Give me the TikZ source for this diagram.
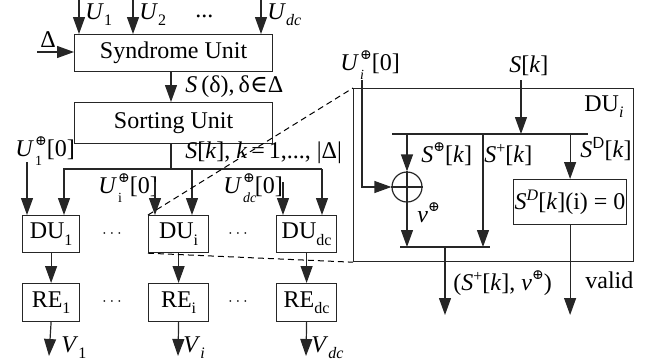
\documentclass[tikz,border=0pt]{standalone}
\usepackage{fontspec}
\setmainfont{Liberation Serif}
\newfontfamily\symf{DejaVu Serif}
\usetikzlibrary{arrows.meta}
\newcommand{\lsub}[1]{\raisebox{-0.6ex}{\footnotesize #1}}
\newcommand{\lsup}[1]{\raisebox{0.8ex}{\footnotesize #1}}
\newcommand{\opsup}{\raisebox{0.95ex}{\symf\scriptsize ⊕}}
\newcommand{\subop}[1]{\kern0.6pt\rlap{\raisebox{-0.9ex}{\scriptsize #1}}\opsup}
\begin{document}
\begin{tikzpicture}[x=0.5pt,y=-0.5pt,
  every node/.style={font=\fontsize{12}{14}\selectfont},
  ln/.style={line width=0.6pt, draw=black!85},
  arr/.style={ln,-{Triangle[length=8.5pt,width=6pt]}},
  box/.style={ln, draw, rectangle, inner sep=0pt, anchor=north west},
  lab/.style={inner sep=0pt, anchor=base west},
  dsh/.style={line width=0.5pt, dash pattern=on 3pt off 2pt}]
\useasboundingbox (0,0) rectangle (659,360);
% boxes
\node[box, minimum width=99pt, minimum height=18.5pt] (syn) at (74,34) {Syndrome Unit};
\node[box, minimum width=99pt, minimum height=20.5pt] (sort) at (74,102) {Sorting Unit};
\node[box, minimum width=28.5pt, minimum height=18.5pt] (du1) at (22,215) {DU\lsub{1}};
\node[box, minimum width=30pt, minimum height=18.5pt] (dui) at (148,215) {DU\lsub{i}};
\node[box, minimum width=30pt, minimum height=18.5pt] (dudc) at (276,215) {DU\lsub{dc}};
\node[box, minimum width=28.5pt, minimum height=19pt] (re1) at (22,283) {RE\lsub{1}};
\node[box, minimum width=30pt, minimum height=19pt] (rei) at (148,283) {RE\lsub{i}};
\node[box, minimum width=30pt, minimum height=19pt] (redc) at (276,283) {RE\lsub{dc}};
% top inputs
\coordinate (t1) at (79,0); \coordinate (t2) at (133,0); \coordinate (t3) at (261,0);
\draw[arr] (t1) -- (syn.north -| t1);
\draw[arr] (t2) -- (syn.north -| t2);
\draw[arr] (t3) -- (syn.north -| t3);
\node[lab] (lu1) at (85,19) {\textit{U}\lsub{1}};
\node[lab] (lu2) at (139,19) {\textit{U}\lsub{2}};
\node[lab] (ludc) at (267,19) {\textit{U}\lsub{\textit{dc}}};
\node[lab] (ldots) at (195,17) {...};
\coordinate (dl) at (37,52);
\draw[arr] (dl) -- (syn.west |- dl);
\node[lab] (ldelta) at (40,47) {Δ};
% syndrome -> sorting
\draw[arr] (syn.south -| 171,0) -- (sort.north -| 171,0);
\node[lab] (lsd) at (185,92) {\textit{S}\,(δ),\,δ{\symf∈}Δ};
% bus
\coordinate (bm) at (171,169); \coordinate (bl) at (64,169); \coordinate (br) at (322,169); \coordinate (bi) at (192,169);
\draw[arr] (sort.south -| bm) -- (bm) -- (bl) -- (du1.north -| bl);
\draw[ln] (bm) -- (br);
\draw[arr] (br) -- (dudc.north -| br);
\draw[arr] (bi) -- (dui.north -| bi);
\node[lab] (lsk) at (185,158) {\textit{S}[\textit{k}], \textit{k}\,=\,1,..., |Δ|};
% U oplus inputs
\node[lab] (lu10) at (15,156) {\textit{U}\subop{1}[0]};
\coordinate (a1) at (27,162);
\draw[arr] (a1) -- (du1.north -| a1);
\node[lab] (lui0) at (98,193) {\textit{U}\subop{i}[0]};
\coordinate (ai) at (155,182);
\draw[arr] (ai) -- (dui.north -| ai);
\node[lab] (ludc0) at (223,193) {\textit{U}\subop{\textit{dc}}[0]};
\coordinate (adc) at (283,182);
\draw[arr] (adc) -- (dudc.north -| adc);
% DU -> RE
\draw[arr] (du1.south) -- (re1.north);
\draw[arr] (dui.south) -- (rei.north);
\draw[arr] (dudc.south) -- (redc.north);
\coordinate (v1) at (49,356); \coordinate (vi) at (178,356); \coordinate (vdc) at (306,356);
\draw[arr] (re1.south) -- (v1);
\draw[arr] (rei.south) -- (vi);
\draw[arr] (redc.south) -- (vdc);
\node[lab] (lv1) at (61,352) {\textit{V}\lsub{1}};
\node[lab] (lvi) at (183,352) {\textit{V}\lsub{\textit{i}}};
\node[lab] (lvdc) at (311,352) {\textit{V}\lsub{\textit{dc}}};
\node (d1) at (112,234) {\footnotesize$\cdots$};
\node (d2) at (238,234) {\footnotesize$\cdots$};
\node (d3) at (112,302) {\footnotesize$\cdots$};
\node (d4) at (238,302) {\footnotesize$\cdots$};
% big box
\node[box, minimum width=140pt, minimum height=86.5pt] (big) at (353,88) {};
\draw[dsh] (dui.north west) -- (big.north west);
\draw[dsh] (dui.south west) -- (big.south west);
\node[lab] (lbig) at (584,111) {DU\lsub{\textit{i}}};
\node[lab] (luit) at (340,70) {\textit{U}\subop{\textit{i}}[0]};
\node[lab] (lskt) at (509,72) {\textit{S}[\textit{k}]};
\node[circle, ln, draw, minimum size=15pt, inner sep=0pt] (xor) at (407,187) {};
\draw[ln] (xor.north) -- (xor.south) (xor.west) -- (xor.east);
\node[box, minimum width=56.5pt, minimum height=22.5pt] (sdb) at (513,179) {\textit{S\lsup{D}}[\textit{k}](i) = 0};
\coordinate (ut) at (362,80); \coordinate (st) at (521,80);
\coordinate (bus1) at (521,134);
\coordinate (b1l) at (392,134); \coordinate (b1r) at (588,134);
\draw[ln] (b1l) -- (b1r);
\draw[arr] (st) -- (bus1);
\draw[arr] (ut) -- (362,187) -- (xor.west);
\draw[arr] (xor.north |- b1l) -- (xor.north);
\coordinate (b2l) at (400,247); \coordinate (b2r) at (490,247);
\draw[ln] (b2l) -- (b2r);
\draw[arr] (xor.south) -- (xor.south |- b2l);
\draw[arr] (483,134) -- (483,247);
\draw[arr] (sdb.north |- b1l) -- (sdb.north);
\coordinate (o1) at (445,315); \coordinate (o2) at (574,315);
\draw[arr] (o1 |- b2l) -- (o1);
\draw[arr] (sdb.south) -- (sdb.south |- o2);
\node[lab] (lsop) at (421,162) {\textit{S}\opsup[\textit{k}]};
\node[lab] (lsp) at (484,162) {\textit{S}\lsup{+}[\textit{k}]};
\node[lab] (lsd2) at (580,157) {\textit{S}\lsup{\sffamily D}[\textit{k}]};
\node[lab] (lnu) at (417,222) {\textit{ν}\opsup};
\node[lab] (lout) at (453,290) {(\textit{S}\lsup{+}[\textit{k}], \textit{ν}\opsup)};
\node[lab] (lval) at (585,288) {valid};
\end{tikzpicture}
\end{document}
